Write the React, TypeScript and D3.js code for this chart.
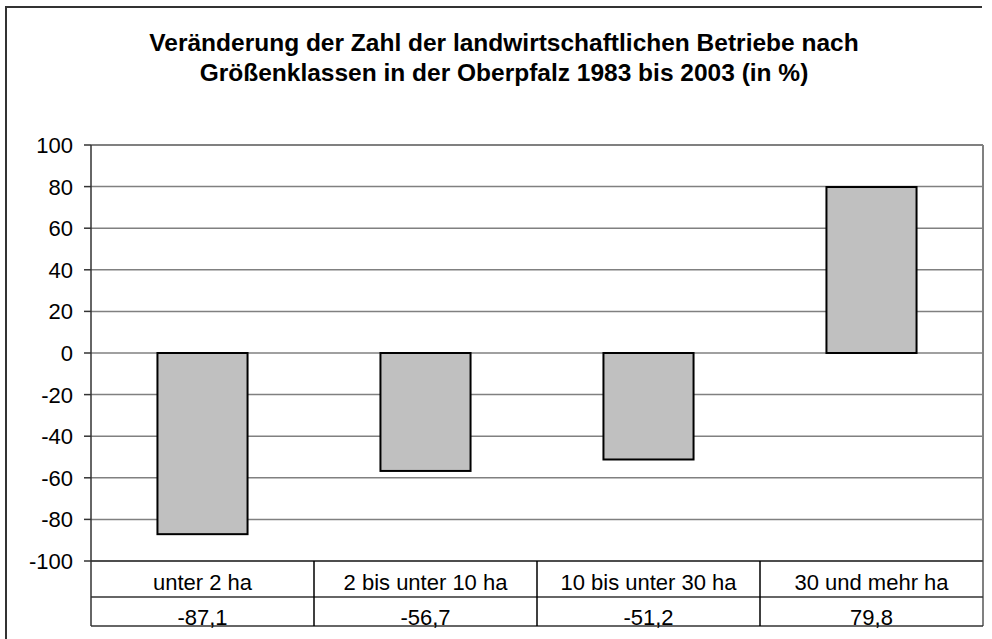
import * as d3 from 'd3';

const categories = ['unter 2 ha', '2 bis unter 10 ha', '10 bis unter 30 ha', '30 und mehr ha'];
const values = [-87.1, -56.7, -51.2, 79.8];
const valueLabels = ['-87,1', '-56,7', '-51,2', '79,8'];
const yTicks = [100, 80, 60, 40, 20, 0, -20, -40, -60, -80, -100];
const titleLines = [
    'Veränderung der Zahl der landwirtschaftlichen Betriebe nach',
    'Größenklassen in der Oberpfalz 1983 bis 2003 (in %)',
];

const W = 992;
const H = 639;
const font = '"Liberation Sans", Arial, sans-serif';

export default function App() {
    const left = 91;
    const right = 983;
    const top = 145;
    const bottom = 561;
    const row1 = 597;
    const row2 = 626;

    const x = d3.scaleBand<string>().domain(categories).range([left, right]).padding(0);
    const y = d3.scaleLinear().domain([-100, 100]).range([bottom, top]);
    const barW = x.bandwidth() * 0.404;

    return (
        <svg width={W} height={H} style={{ position: 'absolute', left: 0, top: 0, background: '#fff' }} fontFamily={font}>
            {/* outer chart frame (cropped on right/bottom) */}
            <path d={`M6,${H + 5} V7 H982`} fill="none" stroke="#333" strokeWidth={2} />

            {titleLines.map((t, i) => (
                <text key={i} x={504} y={51 + i * 30} textAnchor="middle" fontSize={24.5} fontWeight="bold" fill="#000">
                    {t}
                </text>
            ))}

            {/* gridlines */}
            {yTicks.map(t => (
                <line key={t} x1={left} x2={right} y1={y(t)} y2={y(t)} stroke="#808080" strokeWidth={1.5} />
            ))}
            {/* plot border */}
            <line x1={right} x2={right} y1={top} y2={row2} stroke="#808080" strokeWidth={2} />
            <line x1={left} x2={right} y1={top} y2={top} stroke="#808080" strokeWidth={2} />

            {/* bars */}
            {values.map((v, i) => {
                const cx = (x(categories[i]) || 0) + x.bandwidth() / 2;
                return (
                    <rect
                        key={i}
                        x={cx - barW / 2}
                        y={y(Math.max(0, v))}
                        width={barW}
                        height={Math.abs(y(v) - y(0))}
                        fill="#c0c0c0"
                        stroke="#000"
                        strokeWidth={2}
                    />
                );
            })}

            {/* y axis */}
            <line x1={left} x2={left} y1={top} y2={row2} stroke="#333" strokeWidth={1.5} />
            {yTicks.map(t => (
                <g key={t}>
                    <line x1={left - 7} x2={left} y1={y(t)} y2={y(t)} stroke="#333" strokeWidth={1.5} />
                    <text x={73} y={y(t)} dy="0.36em" textAnchor="end" fontSize={22} fill="#000">
                        {t}
                    </text>
                </g>
            ))}

            {/* data table */}
            <line x1={left} x2={right} y1={bottom} y2={bottom} stroke="#333" strokeWidth={1.5} />
            <line x1={left} x2={right} y1={row1} y2={row1} stroke="#333" strokeWidth={1.5} />
            <line x1={left} x2={right} y1={row2} y2={row2} stroke="#333" strokeWidth={1.5} />
            {categories.slice(1).map(c => (
                <line key={c} x1={x(c)} x2={x(c)} y1={bottom} y2={row2} stroke="#000" strokeWidth={1.5} />
            ))}
            {categories.map((c, i) => {
                const cx = (x(c) || 0) + x.bandwidth() / 2;
                return (
                    <g key={c}>
                        <text x={cx} y={590} textAnchor="middle" fontSize={22} fill="#000">{c}</text>
                        <text x={cx} y={625} textAnchor="middle" fontSize={22} fill="#000">{valueLabels[i]}</text>
                    </g>
                );
            })}
        </svg>
    );
}
